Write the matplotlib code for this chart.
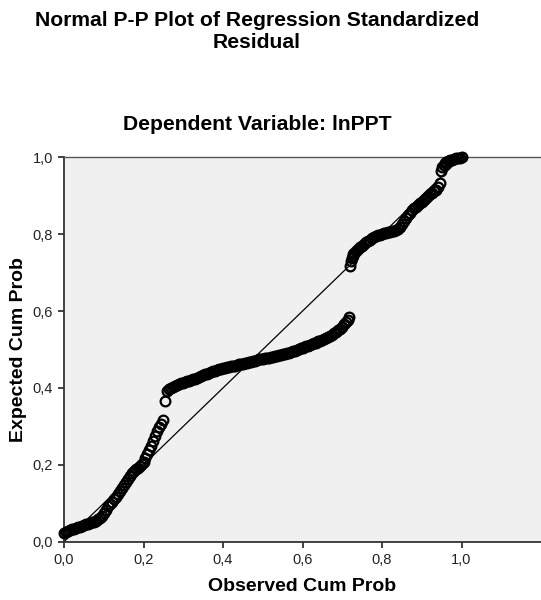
import matplotlib
matplotlib.use("Agg")
import matplotlib.pyplot as plt

plt.rcParams['font.family'] = ['Liberation Sans', 'DejaVu Sans']

title_text = "Normal P-P Plot of Regression Standardized"
title_text2 = "Residual"
subtitle_text = "Dependent Variable: lnPPT"
x_label = "Observed Cum Prob"
y_label = "Expected Cum Prob"

tick_values = [0.0, 0.2, 0.4, 0.6, 0.8, 1.0]
tick_labels = ["0,0", "0,2", "0,4", "0,6", "0,8", "1,0"]

# Lower segment (observed, expected)
obs_low = [0.000, 0.005, 0.010, 0.015, 0.020, 0.025, 0.030, 0.035, 0.040, 0.045,
           0.050, 0.055, 0.060, 0.065, 0.070, 0.075, 0.080, 0.085, 0.090, 0.095,
           0.100, 0.105, 0.110, 0.115, 0.120, 0.125, 0.130, 0.135, 0.140, 0.145,
           0.150, 0.155, 0.160, 0.165, 0.170, 0.175, 0.180, 0.185, 0.190, 0.195,
           0.200, 0.205, 0.210, 0.215, 0.220, 0.225, 0.230, 0.235, 0.240, 0.245,
           0.250]
exp_low = [0.022, 0.025, 0.028, 0.030, 0.032, 0.034, 0.035, 0.037, 0.039, 0.041,
           0.043, 0.045, 0.046, 0.048, 0.050, 0.052, 0.055, 0.058, 0.062, 0.068,
           0.075, 0.083, 0.092, 0.098, 0.104, 0.110, 0.117, 0.124, 0.132, 0.140,
           0.148, 0.156, 0.164, 0.171, 0.178, 0.184, 0.189, 0.193, 0.197, 0.202,
           0.208, 0.218, 0.228, 0.239, 0.250, 0.262, 0.275, 0.287, 0.298, 0.307,
           0.316]

# Middle segment
obs_mid = [0.255, 0.260, 0.265, 0.270, 0.275, 0.280, 0.285, 0.290, 0.295, 0.300,
           0.305, 0.310, 0.315, 0.320, 0.325, 0.330, 0.335, 0.340, 0.345, 0.350,
           0.355, 0.360, 0.365, 0.370, 0.375, 0.380, 0.385, 0.390, 0.395, 0.400,
           0.405, 0.410, 0.415, 0.420, 0.425, 0.430, 0.435, 0.440, 0.445, 0.450,
           0.455, 0.460, 0.465, 0.470, 0.475, 0.480, 0.485, 0.490, 0.495, 0.500,
           0.505, 0.510, 0.515, 0.520, 0.525, 0.530, 0.535, 0.540, 0.545, 0.550,
           0.555, 0.560, 0.565, 0.570, 0.575, 0.580, 0.585, 0.590, 0.595, 0.600,
           0.605, 0.610, 0.615, 0.620, 0.625, 0.630, 0.635, 0.640, 0.645, 0.650,
           0.655, 0.660, 0.665, 0.670, 0.675, 0.680, 0.685, 0.690, 0.695, 0.700,
           0.705, 0.710, 0.715, 0.718]
exp_mid = [0.367, 0.391, 0.396, 0.399, 0.402, 0.405, 0.407, 0.409, 0.412, 0.414,
           0.416, 0.417, 0.419, 0.420, 0.422, 0.424, 0.426, 0.428, 0.430, 0.433,
           0.435, 0.437, 0.439, 0.441, 0.443, 0.445, 0.447, 0.448, 0.450, 0.451,
           0.452, 0.454, 0.455, 0.456, 0.457, 0.458, 0.460, 0.461, 0.462, 0.463,
           0.464, 0.466, 0.467, 0.468, 0.470, 0.471, 0.473, 0.474, 0.475, 0.476,
           0.477, 0.478, 0.479, 0.480, 0.481, 0.482, 0.483, 0.485, 0.486, 0.487,
           0.488, 0.490, 0.492, 0.493, 0.495, 0.497, 0.499, 0.501, 0.503, 0.505,
           0.507, 0.508, 0.510, 0.512, 0.514, 0.516, 0.518, 0.521, 0.523, 0.525,
           0.528, 0.531, 0.533, 0.536, 0.539, 0.542, 0.546, 0.550, 0.554, 0.559,
           0.566, 0.572, 0.578, 0.585]

# Upper segment
obs_up = [0.720, 0.722, 0.724, 0.726, 0.728, 0.730, 0.735, 0.740, 0.745, 0.750,
          0.755, 0.760, 0.765, 0.770, 0.775, 0.780, 0.785, 0.790, 0.795, 0.800,
          0.805, 0.810, 0.815, 0.820, 0.825, 0.830, 0.835, 0.840, 0.845, 0.850,
          0.855, 0.860, 0.865, 0.870, 0.875, 0.880, 0.885, 0.890, 0.895, 0.900,
          0.905, 0.910, 0.915, 0.920, 0.925, 0.930, 0.935, 0.940, 0.945, 0.949,
          0.952, 0.955, 0.958, 0.962, 0.966, 0.970, 0.975, 0.980, 0.985, 0.990,
          0.995, 1.000]
exp_up = [0.718, 0.730, 0.738, 0.744, 0.748, 0.751, 0.756, 0.761, 0.766, 0.770,
          0.775, 0.779, 0.783, 0.786, 0.789, 0.792, 0.795, 0.797, 0.799, 0.801,
          0.802, 0.804, 0.805, 0.806, 0.807, 0.808, 0.810, 0.813, 0.818, 0.826,
          0.835, 0.843, 0.850, 0.856, 0.862, 0.867, 0.872, 0.876, 0.880, 0.885,
          0.890, 0.895, 0.899, 0.904, 0.908, 0.912, 0.916, 0.922, 0.932, 0.964,
          0.975, 0.980, 0.984, 0.988, 0.990, 0.992, 0.994, 0.996, 0.997, 0.998,
          0.999, 1.000]

ref_line = [0.0, 1.0]

fig = plt.figure(figsize=(5.41, 6.0), dpi=100)
ax = fig.add_axes([64 / 541, 58.3 / 600, 1 - 64 / 541, 384.4 / 600])
ax.set_facecolor('#f0f0f0')

ax.plot(ref_line, ref_line, color='black', lw=0.9, zorder=2)
for xs, ys in [(obs_low, exp_low), (obs_mid, exp_mid), (obs_up, exp_up)]:
    ax.plot(xs, ys, linestyle='none', marker='o', markersize=7.0,
            markerfacecolor='none', markeredgecolor='black', markeredgewidth=1.6,
            zorder=3, clip_on=False)

ax.set_xlim(0, 1.2)
ax.set_ylim(0, 1.0)
ax.set_xticks(tick_values)
ax.set_xticklabels(tick_labels)
ax.set_yticks(tick_values)
ax.set_yticklabels(tick_labels)
ax.tick_params(direction='out', length=4, width=1.2, color='#222222',
               labelsize=10.5, labelcolor='#222222', pad=4)

for s in ['left', 'bottom']:
    ax.spines[s].set_color('#333333')
    ax.spines[s].set_linewidth(1.3)
ax.spines['top'].set_color('#555555')
ax.spines['top'].set_linewidth(1.0)
ax.spines['right'].set_visible(False)

ax.set_xlabel(x_label, fontsize=14, fontweight='bold', labelpad=8)
ax.set_ylabel(y_label, fontsize=14, fontweight='bold', labelpad=4)

fig.text(257 / 541, 1 - 21 / 600, title_text, ha='center', va='center',
         fontsize=15.2, fontweight='bold')
fig.text(257 / 541, 1 - 43 / 600, title_text2, ha='center', va='center',
         fontsize=15.2, fontweight='bold')
fig.text(257 / 541, 1 - 124 / 600, subtitle_text, ha='center', va='center',
         fontsize=15.2, fontweight='bold')

fig.savefig('out.png', dpi=100, facecolor='white')
